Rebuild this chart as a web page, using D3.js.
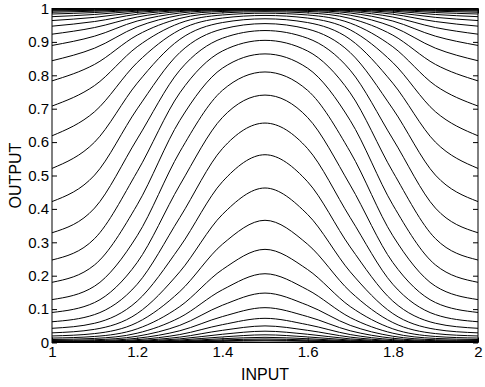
<!DOCTYPE html>
<html>
<head>
<meta charset="utf-8">
<script src="https://cdn.jsdelivr.net/npm/d3@7"></script>
<style>
  body { margin: 0; background: #fff; }
  svg { display: block; }
  text { font-family: "Liberation Sans", Arial, Helvetica, sans-serif; fill: #000; }
</style>
</head>
<body>
<svg id="chart" width="485" height="387"></svg>
<script>
// Sample positions along the INPUT axis
const inputs = [1, 1.1, 1.2, 1.3, 1.4, 1.5, 1.6, 1.7, 1.8, 1.9, 2];

// One row per curve: OUTPUT value at each input position (bottom curve first)
const outputs = [
  [0.0002, 0.0002, 0.0005, 0.0015, 0.0034, 0.0047, 0.0034, 0.0015, 0.0005, 0.0002, 0.0002],
  [0.0002, 0.0003, 0.0008, 0.0022, 0.0051, 0.0070, 0.0051, 0.0022, 0.0008, 0.0003, 0.0002],
  [0.0004, 0.0005, 0.0012, 0.0033, 0.0076, 0.0105, 0.0076, 0.0033, 0.0012, 0.0005, 0.0004],
  [0.0005, 0.0007, 0.0017, 0.0049, 0.0113, 0.0155, 0.0113, 0.0049, 0.0017, 0.0007, 0.0005],
  [0.0008, 0.0011, 0.0026, 0.0073, 0.0167, 0.0230, 0.0167, 0.0073, 0.0026, 0.0011, 0.0008],
  [0.0012, 0.0017, 0.0039, 0.0108, 0.0247, 0.0339, 0.0247, 0.0108, 0.0039, 0.0017, 0.0012],
  [0.0018, 0.0025, 0.0057, 0.0161, 0.0364, 0.0497, 0.0364, 0.0161, 0.0057, 0.0025, 0.0018],
  [0.0027, 0.0037, 0.0085, 0.0238, 0.0534, 0.0724, 0.0534, 0.0238, 0.0085, 0.0037, 0.0027],
  [0.0040, 0.0055, 0.0127, 0.0351, 0.0776, 0.1043, 0.0776, 0.0351, 0.0127, 0.0055, 0.0040],
  [0.0060, 0.0082, 0.0188, 0.0514, 0.1116, 0.1480, 0.1116, 0.0514, 0.0188, 0.0082, 0.0060],
  [0.0089, 0.0122, 0.0278, 0.0748, 0.1578, 0.2059, 0.1578, 0.0748, 0.0278, 0.0122, 0.0089],
  [0.0132, 0.0181, 0.0409, 0.1076, 0.2184, 0.2789, 0.2184, 0.1076, 0.0409, 0.0181, 0.0132],
  [0.0196, 0.0267, 0.0598, 0.1525, 0.2942, 0.3659, 0.2942, 0.1525, 0.0598, 0.0267, 0.0196],
  [0.0289, 0.0394, 0.0867, 0.2117, 0.3834, 0.4626, 0.3834, 0.2117, 0.0867, 0.0394, 0.0289],
  [0.0425, 0.0576, 0.1240, 0.2860, 0.4813, 0.5622, 0.4813, 0.2860, 0.1240, 0.0576, 0.0425],
  [0.0621, 0.0836, 0.1744, 0.3740, 0.5805, 0.6570, 0.5805, 0.3740, 0.1744, 0.0836, 0.0621],
  [0.0899, 0.1197, 0.2396, 0.4713, 0.6737, 0.7408, 0.6737, 0.4713, 0.2396, 0.1197, 0.0899],
  [0.1284, 0.1687, 0.3197, 0.5708, 0.7549, 0.8100, 0.7549, 0.5708, 0.3197, 0.1687, 0.1284],
  [0.1802, 0.2324, 0.4122, 0.6649, 0.8213, 0.8641, 0.8213, 0.6649, 0.4122, 0.2324, 0.1802],
  [0.2470, 0.3111, 0.5112, 0.7474, 0.8727, 0.9047, 0.8727, 0.7474, 0.5112, 0.3111, 0.2470],
  [0.3285, 0.4025, 0.6094, 0.8153, 0.9109, 0.9340, 0.9109, 0.8153, 0.6094, 0.4025, 0.3285],
  [0.4219, 0.5012, 0.6995, 0.8682, 0.9385, 0.9548, 0.9385, 0.8682, 0.6995, 0.5012, 0.4219],
  [0.5212, 0.5999, 0.7764, 0.9076, 0.9579, 0.9692, 0.9579, 0.9076, 0.7764, 0.5999, 0.5212],
  [0.6189, 0.6910, 0.8382, 0.9361, 0.9714, 0.9792, 0.9714, 0.9361, 0.8382, 0.6910, 0.6189],
  [0.7079, 0.7694, 0.8855, 0.9563, 0.9806, 0.9859, 0.9806, 0.9563, 0.8855, 0.7694, 0.7079],
  [0.7833, 0.8327, 0.9202, 0.9703, 0.9869, 0.9905, 0.9869, 0.9703, 0.9202, 0.8327, 0.7833],
  [0.8436, 0.8813, 0.9451, 0.9799, 0.9912, 0.9936, 0.9912, 0.9799, 0.9451, 0.8813, 0.8436],
  [0.8894, 0.9172, 0.9625, 0.9864, 0.9941, 0.9957, 0.9941, 0.9864, 0.9625, 0.9172, 0.8894],
  [0.9231, 0.9430, 0.9745, 0.9909, 0.9960, 0.9971, 0.9960, 0.9909, 0.9745, 0.9430, 0.9231],
  [0.9471, 0.9610, 0.9828, 0.9938, 0.9973, 0.9981, 0.9973, 0.9938, 0.9828, 0.9610, 0.9471],
  [0.9639, 0.9735, 0.9884, 0.9959, 0.9982, 0.9987, 0.9982, 0.9959, 0.9884, 0.9735, 0.9639],
  [0.9755, 0.9821, 0.9922, 0.9972, 0.9988, 0.9991, 0.9988, 0.9972, 0.9922, 0.9821, 0.9755],
  [0.9835, 0.9879, 0.9948, 0.9981, 0.9992, 0.9994, 0.9992, 0.9981, 0.9948, 0.9879, 0.9835],
  [0.9888, 0.9919, 0.9965, 0.9988, 0.9995, 0.9996, 0.9995, 0.9988, 0.9965, 0.9919, 0.9888],
  [0.9925, 0.9945, 0.9976, 0.9992, 0.9996, 0.9997, 0.9996, 0.9992, 0.9976, 0.9945, 0.9925],
  [0.9950, 0.9963, 0.9984, 0.9994, 0.9998, 0.9998, 0.9998, 0.9994, 0.9984, 0.9963, 0.9950],
  [0.9966, 0.9975, 0.9989, 0.9996, 0.9998, 0.9999, 0.9998, 0.9996, 0.9989, 0.9975, 0.9966]
];

// Axis ticks and their labels
const xTicks = [1, 1.2, 1.4, 1.6, 1.8, 2];
const xTickLabels = ["1", "1.2", "1.4", "1.6", "1.8", "2"];
const yTicks = [0, 0.1, 0.2, 0.3, 0.4, 0.5, 0.6, 0.7, 0.8, 0.9, 1];
const yTickLabels = ["0", "0.1", "0.2", "0.3", "0.4", "0.5", "0.6", "0.7", "0.8", "0.9", "1"];
const xTitle = "INPUT";
const yTitle = "OUTPUT";

const svg = d3.select("#chart");
const plot = { left: 52, right: 478, top: 8.5, bottom: 342.5 };

const x = d3.scaleLinear().domain([1, 2]).range([plot.left, plot.right]);
const y = d3.scaleLinear().domain([0, 1]).range([plot.bottom, plot.top]);

// Curves
const line = d3.line()
  .x((d, i) => x(inputs[i]))
  .y(d => y(d))
  .curve(d3.curveMonotoneX);

svg.append("g")
  .selectAll("path")
  .data(outputs)
  .join("path")
  .attr("d", line)
  .attr("fill", "none")
  .attr("stroke", "#000")
  .attr("stroke-width", 1);

// Axes: inward ticks on all four sides, labels on bottom and left
const tickLen = 5;
const fontSize = 15;

const styleAxis = g => {
  g.select(".domain").remove();
  g.selectAll(".tick line").attr("stroke", "#000").attr("stroke-width", 1);
  g.selectAll(".tick text").attr("font-size", fontSize).attr("fill", "#000")
    .attr("font-family", '"Liberation Sans", Arial, Helvetica, sans-serif');
};

svg.append("g")
  .attr("transform", `translate(0,${plot.bottom})`)
  .call(d3.axisBottom(x).tickValues(xTicks).tickFormat((d, i) => xTickLabels[i])
    .tickSizeInner(-tickLen).tickSizeOuter(0).tickPadding(4))
  .call(styleAxis);

svg.append("g")
  .attr("transform", `translate(0,${plot.top})`)
  .call(d3.axisTop(x).tickValues(xTicks).tickFormat("")
    .tickSizeInner(-tickLen).tickSizeOuter(0))
  .call(styleAxis);

svg.append("g")
  .attr("transform", `translate(${plot.left},0)`)
  .call(d3.axisLeft(y).tickValues(yTicks).tickFormat((d, i) => yTickLabels[i])
    .tickSizeInner(-tickLen).tickSizeOuter(0).tickPadding(3))
  .call(styleAxis);

svg.append("g")
  .attr("transform", `translate(${plot.right},0)`)
  .call(d3.axisRight(y).tickValues(yTicks).tickFormat("")
    .tickSizeInner(-tickLen).tickSizeOuter(0))
  .call(styleAxis);

// Frame
svg.append("rect")
  .attr("x", plot.left).attr("y", plot.top)
  .attr("width", plot.right - plot.left).attr("height", plot.bottom - plot.top)
  .attr("fill", "none").attr("stroke", "#000").attr("stroke-width", 1);

// Axis titles
svg.append("text")
  .attr("x", (plot.left + plot.right) / 2).attr("y", 380)
  .attr("text-anchor", "middle").attr("font-size", 16)
  .text(xTitle);

svg.append("text")
  .attr("transform", `translate(20.5,${(plot.top + plot.bottom) / 2}) rotate(-90)`)
  .attr("text-anchor", "middle").attr("font-size", 16)
  .text(yTitle);
</script>
</body>
</html>
